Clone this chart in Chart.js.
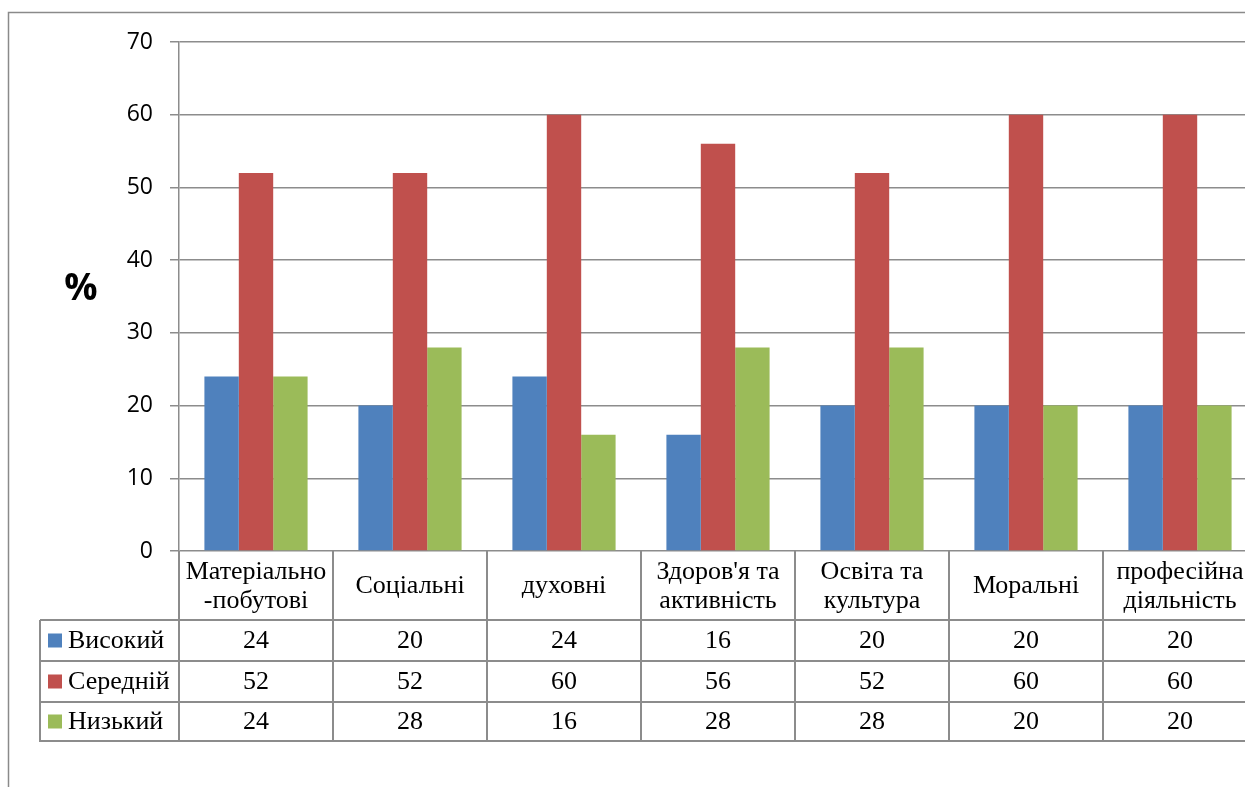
<!DOCTYPE html>
<html>
<head>
<meta charset="utf-8">
<script src="https://cdn.jsdelivr.net/npm/chart.js@4"></script>
<style>
html,body{margin:0;padding:0;background:#fff;overflow:hidden;}
#wrap{position:absolute;left:0;top:0;width:1270px;height:787px;}
</style>
</head>
<body>
<div id="wrap"><canvas id="c" width="1270" height="787"></canvas></div>
<script>
const categories = [
  ['Матеріально', '-побутові'],
  ['Соціальні'],
  ['духовні'],
  ["Здоров'я та", 'активність'],
  ['Освіта та', 'культура'],
  ['Моральні'],
  ['професійна', 'діяльність']
];
const seriesNames = ['Високий', 'Середній', 'Низький'];
const highValues = [24, 20, 24, 16, 20, 20, 20];
const midValues = [52, 52, 60, 56, 52, 60, 60];
const lowValues = [24, 28, 16, 28, 28, 20, 20];
const seriesColors = ['#4F81BD', '#C0504D', '#9BBB59'];
const yTicks = [0, 10, 20, 30, 40, 50, 60, 70];
const yAxisLabel = '%';

const lineColor = '#8c8c8c';
const serif = '"Liberation Serif", "Times New Roman", serif';

const tablePlugin = {
  id: 'tablePlugin',
  afterDraw(chart) {
    const ctx = chart.ctx;
    const xs = chart.scales.x;
    const area = chart.chartArea;
    const W = chart.width;
    const n = categories.length;
    const step = xs.getPixelForValue(1) - xs.getPixelForValue(0);
    const bounds = [];
    for (let i = 0; i <= n; i++) bounds.push(xs.getPixelForValue(0) - step / 2 + i * step);
    const b = area.bottom;
    const rowYs = [b + 69, b + 110, b + 151, b + 190];
    const legendLeft = 40;

    ctx.save();
    // outer frame
    ctx.strokeStyle = '#8a8a8a';
    ctx.lineWidth = 1.5;
    ctx.beginPath();
    ctx.moveTo(8.5, 787);
    ctx.lineTo(8.5, 12.5);
    ctx.lineTo(W, 12.5);
    ctx.stroke();

    // table lines
    ctx.strokeStyle = lineColor;
    ctx.lineWidth = 2;
    ctx.beginPath();
    for (let i = 0; i <= n; i++) {
      ctx.moveTo(Math.round(bounds[i]), b);
      ctx.lineTo(Math.round(bounds[i]), rowYs[3]);
    }
    ctx.moveTo(legendLeft, rowYs[0]);
    ctx.lineTo(legendLeft, rowYs[3] + 1);
    rowYs.forEach(y => {
      ctx.moveTo(legendLeft, y);
      ctx.lineTo(W, y);
    });
    ctx.stroke();

    // header labels
    ctx.fillStyle = '#000';
    ctx.font = '26px ' + serif;
    ctx.textAlign = 'center';
    ctx.textBaseline = 'middle';
    const headerMid = (b + rowYs[0]) / 2 + 1;
    categories.forEach((lines, i) => {
      const cx = (bounds[i] + bounds[i + 1]) / 2;
      const lh = 29;
      const start = headerMid - (lines.length - 1) * lh / 2;
      lines.forEach((t, j) => ctx.fillText(t, cx, start + j * lh));
    });

    // rows
    const data = [highValues, midValues, lowValues];
    for (let r = 0; r < 3; r++) {
      const cy = (rowYs[r] + rowYs[r + 1]) / 2;
      // legend key
      ctx.fillStyle = seriesColors[r];
      ctx.fillRect(48, cy - 7, 14, 14);
      ctx.fillStyle = '#000';
      ctx.textAlign = 'left';
      ctx.fillText(seriesNames[r], 68, cy + 1);
      ctx.textAlign = 'center';
      data[r].forEach((v, i) => {
        const cx = (bounds[i] + bounds[i + 1]) / 2;
        ctx.fillText(String(v), cx, cy + 1);
      });
    }

    // % label
    ctx.font = 'bold 37px "Open Sans", "Liberation Sans", sans-serif';
    ctx.textAlign = 'center';
    ctx.fillText(yAxisLabel, 81, 289);
    ctx.restore();
  }
};

new Chart(document.getElementById('c'), {
  type: 'bar',
  data: {
    labels: categories,
    datasets: [
      { label: seriesNames[0], data: highValues, backgroundColor: seriesColors[0] },
      { label: seriesNames[1], data: midValues, backgroundColor: seriesColors[1] },
      { label: seriesNames[2], data: lowValues, backgroundColor: seriesColors[2] }
    ]
  },
  options: {
    responsive: false,
    animation: false,
    devicePixelRatio: 1,
    layout: { padding: { left: 0, right: 13, top: 42, bottom: 236 } },
    datasets: { bar: { categoryPercentage: 0.67, barPercentage: 1.0 } },
    plugins: { legend: { display: false }, tooltip: { enabled: false }, title: { display: false } },
    scales: {
      x: { display: false, offset: true },
      y: {
        min: 0, max: 70,
        afterFit(scale) { scale.width = 179; },
        afterBuildTicks(scale) { scale.ticks = yTicks.map(v => ({ value: v })); },
        ticks: {
          color: '#000',
          padding: 17,
          font: { family: '"Open Sans", "Liberation Sans", sans-serif', size: 23 }
        },
        grid: { color: lineColor, lineWidth: 1.5, tickLength: 9, drawTicks: true },
        border: { display: true, color: lineColor, width: 1.5 }
      }
    }
  },
  plugins: [tablePlugin]
});
</script>
</body>
</html>
